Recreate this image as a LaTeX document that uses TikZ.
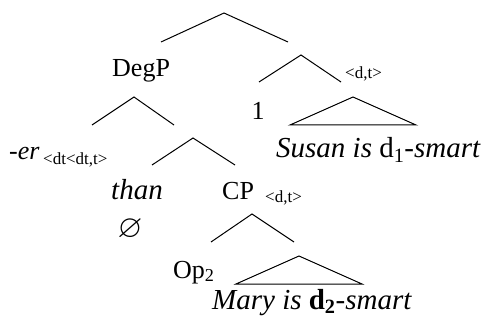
\documentclass[tikz,border=0pt]{standalone}
\usepackage{fontspec}
\usepackage{amssymb}
\setmainfont{Liberation Serif}
\usetikzlibrary{positioning}
\newcommand{\catsize}{\fontsize{26}{30}\selectfont}
\newcommand{\itsize}{\fontsize{29}{33}\selectfont}
\newcommand{\typsize}{\fontsize{17}{19}\selectfont}
\tikzset{
  cat/.style={font=\catsize, inner sep=0pt},
  str/.style={font=\itsize, inner sep=0pt},
  typ/.style={font=\typsize, inner sep=0pt},
  branch/.style={line width=1pt, line join=miter},
}

\begin{document}
\begin{tikzpicture}[x=1pt, y=-1pt]
\useasboundingbox (0,0) rectangle (482,323);

% ========== BRANCHES ==========
\foreach \nm/\tx/\ty/\lx/\rx/\by in {root/224/13/161/288/42,
                                      seg/301/55/259/341/82,
                                      deg/134/97/92/174/125,
                                      cmp/193/138/152/235/165,
                                      cp/252/214/211/294/242} {
  \coordinate (\nm-top) at (\tx,\ty);
  \coordinate (\nm-l) at (\lx,\by);
  \coordinate (\nm-r) at (\rx,\by);
  \draw[branch] (\nm-l) -- (\nm-top) -- (\nm-r);
}

% ========== ROOFS ==========
\coordinate (susan-top) at (353,97);
\coordinate (susan-l) at (290,125);
\coordinate (susan-r) at (416,125);
\draw[branch] (susan-l) -- (susan-top) -- (susan-r) -- cycle;

\coordinate (mary-top) at (299,256);
\coordinate (mary-l) at (236,284);
\coordinate (mary-r) at (362,284);
\draw[branch] (mary-l) -- (mary-top) -- (mary-r) -- cycle;

% ========== LABELS ==========
\node[cat, anchor=base west] (degp) at (112,77) {DegP};
\node[typ, anchor=base west] (segT) at (345,79) {<d,t>};
\node[cat, anchor=base] (idx) at (258,120) {1};
\node[str, anchor=base west] (susan) at (276,158)
  {\textit{Susan is} d\textsubscript{1}\textit{-smart}};

\node[cat, anchor=base west] (er) at (9,160) {\textit{-er}};
\node[typ, anchor=base west] (erT) at (43,165) {<dt<dt,t>};
\node[str, anchor=base] (than) at (137,200) {\textit{than}};
\node[font=\fontsize{32}{35}\selectfont, inner sep=0pt] (empty) at (130,229)
  {$\varnothing$};
\node[cat, anchor=base west] (cp) at (222,200) {CP};
\node[typ, anchor=base west] (cpT) at (265,203) {<d,t>};

\node[cat, anchor=base west] (op) at (173,278) {Op\textsubscript{2}};
\node[str, anchor=base west] (mary) at (212,309)
  {\textit{Mary is} \textbf{d\textsubscript{2}}\textit{-smart}};

\end{tikzpicture}
\end{document}
